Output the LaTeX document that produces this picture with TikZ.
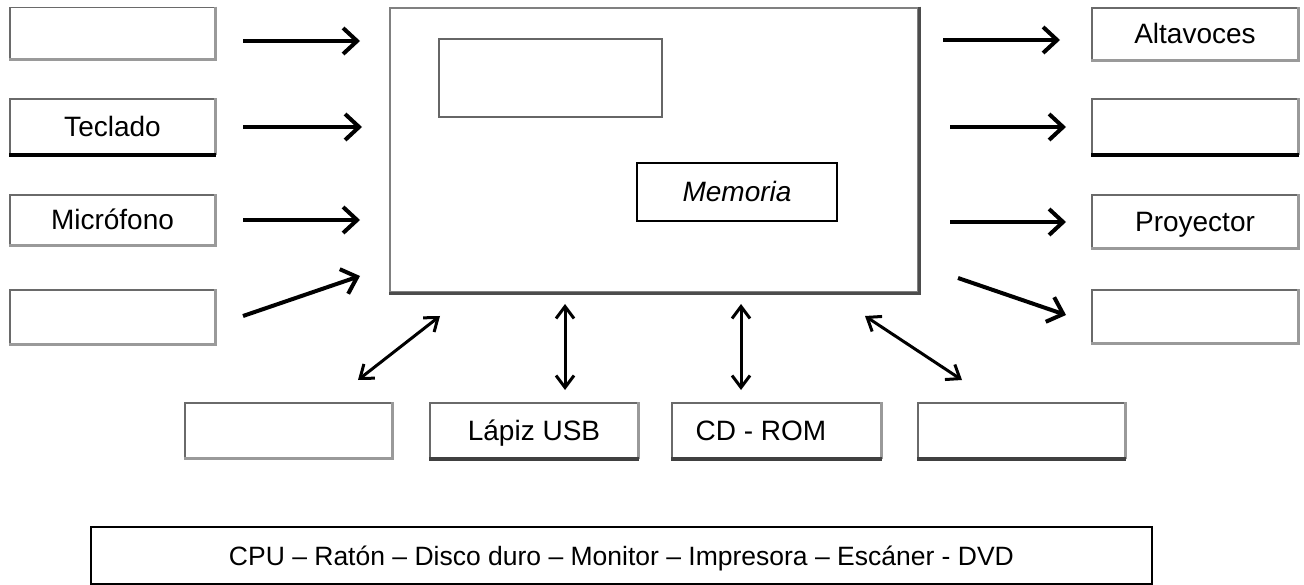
\documentclass[tikz,border=0pt]{standalone}
\usepackage{fontspec}
\setmainfont{Liberation Sans}
\usetikzlibrary{arrows.meta}
\definecolor{edgegray}{HTML}{6A6A6A}
\definecolor{shadegray}{HTML}{9A9A9A}
\tikzset{
  lbl/.style={inner sep=0pt, font=\fontsize{28}{32}\selectfont, text height=20pt, text depth=0pt},
  box/.style={lbl, draw=edgegray, line width=1.6pt},
  shade/.style={draw=shadegray, line width=3pt},
  darkline/.style={draw=black, line width=3.5pt},
  bigbox/.style={draw=gray, line width=2.8pt, inner sep=0pt},
  flow/.style={line width=4pt, -{Straight Barb[length=14pt,width=26pt]}},
  both/.style={line width=3pt, {Straight Barb[length=12pt,width=18pt]}-{Straight Barb[length=12pt,width=18pt]}},
}
\begin{document}
\begin{tikzpicture}[x=1pt,y=-1pt]
\useasboundingbox (0,0) rectangle (1304,585);
% left column
\node[box, minimum width=205pt, minimum height=51pt] (l1) at (112.5,33) {};
\node[box, minimum width=205pt, minimum height=55pt] (l2) at (112.5,126.5) {Teclado};
\node[box, minimum width=205pt, minimum height=50pt] (l3) at (112.5,220) {Micrófono};
\node[box, minimum width=205pt, minimum height=54pt] (l4) at (112.5,317) {};
% central unit
\node[bigbox, minimum width=528pt, minimum height=284pt] (cpu) at (654,150) {};
\draw[draw=gray!60!black, line width=3.5pt] (cpu.north east) -- (cpu.south east) -- (cpu.south west);
\node[box, draw=gray!80!black, line width=2.4pt, minimum width=223pt, minimum height=78pt] (in1) at (550.5,78) {};
\node[box, draw=black, line width=1.6pt, minimum width=200pt, minimum height=58pt] (mem) at (737,192) {\itshape Memoria};
% right column
\node[box, minimum width=206pt, minimum height=52pt] (r1) at (1195,34) {Altavoces};
\node[box, minimum width=206pt, minimum height=55pt] (r2) at (1195,126.5) {};
\node[box, minimum width=206pt, minimum height=53pt] (r3) at (1195,221.5) {Proyector};
\node[box, minimum width=206pt, minimum height=53pt] (r4) at (1195,316.5) {};
% bottom row
\node[box, minimum width=207pt, minimum height=55pt] (b1) at (288.5,430.5) {};
\node[box, minimum width=208pt, minimum height=55pt] (b2) at (534,430.5) {Lápiz USB};
\node[box, minimum width=209pt, minimum height=55pt] (b3) at (776.5,430.5) {};
\node[lbl] (b3t) at (761,430.5) {CD - ROM};
\node[box, minimum width=207pt, minimum height=55pt] (b4) at (1021.5,430.5) {};
% word list
\node[draw=black, line width=1.8pt, minimum width=1061pt, minimum height=57pt, inner sep=0pt,
      font=\fontsize{26.5}{30}\selectfont, text height=19pt, text depth=0pt] (list) at (621.5,555.5)
      {CPU – Ratón – Disco duro – Monitor – Impresora – Escáner - DVD};
% shadows of boxes
\foreach \n in {l1,l3,l4,r1,r3,r4,b1} {
  \draw[shade] (\n.north east) -- (\n.south east) -- (\n.south west);
}
\foreach \n in {l2,r2} {
  \draw[shade] (\n.north east) -- (\n.south east);
  \draw[darkline] (\n.south east) -- (\n.south west);
}
\foreach \n in {b2,b3,b4} {
  \draw[shade] (\n.north east) -- (\n.south east);
  \draw[draw=gray!50!black, line width=3.5pt] (\n.south east) -- (\n.south west);
}
% arrow end points
\coordinate (a1s) at (243,41);  \coordinate (a1e) at (360,41);
\coordinate (a2s) at (243,127); \coordinate (a2e) at (362,127);
\coordinate (a3s) at (243,220); \coordinate (a3e) at (360,220);
\coordinate (a4s) at (243,316); \coordinate (a4e) at (360,276);
\coordinate (c1s) at (943,40);  \coordinate (c1e) at (1060,40);
\coordinate (c2s) at (950,127); \coordinate (c2e) at (1066,127);
\coordinate (c3s) at (950,222); \coordinate (c3e) at (1066,222);
\coordinate (c4s) at (958,278); \coordinate (c4e) at (1066,315);
\coordinate (d1s) at (358,380); \coordinate (d1e) at (440,316);
\coordinate (d2s) at (565,390); \coordinate (d2e) at (565,304);
\coordinate (d3s) at (741,390); \coordinate (d3e) at (741,304);
\coordinate (d4s) at (962,380); \coordinate (d4e) at (865,316);
\draw[flow] (a1s) -- (a1e);
\draw[flow] (a2s) -- (a2e);
\draw[flow] (a3s) -- (a3e);
\draw[flow] (a4s) -- (a4e);
\draw[flow] (c1s) -- (c1e);
\draw[flow] (c2s) -- (c2e);
\draw[flow] (c3s) -- (c3e);
\draw[flow] (c4s) -- (c4e);
\draw[both] (d1s) -- (d1e);
\draw[both] (d2s) -- (d2e);
\draw[both] (d3s) -- (d3e);
\draw[both] (d4s) -- (d4e);
\end{tikzpicture}
\end{document}
